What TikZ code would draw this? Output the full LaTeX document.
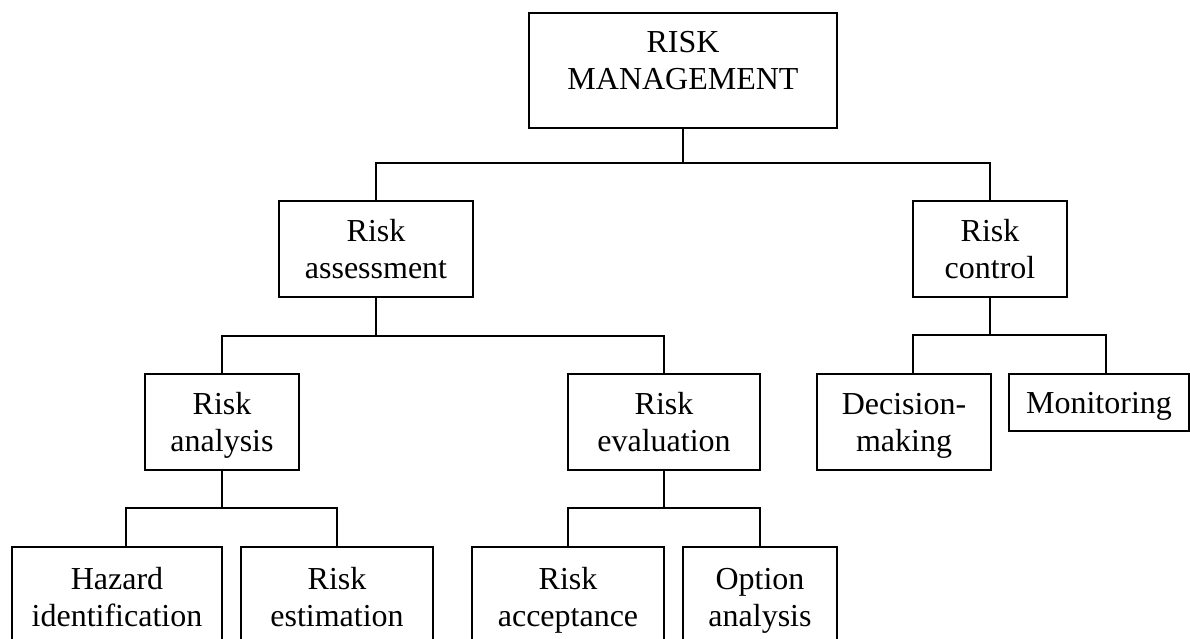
\documentclass[tikz,border=0pt]{standalone}
\usepackage{fontspec}
\setmainfont{Liberation Serif}
\newcommand{\rowstrut}{\rule[-8pt]{0pt}{37pt}}
\begin{document}
\begin{tikzpicture}[x=1pt, y=-1pt, line width=1.5pt,
  boxtext/.style={align=center, inner sep=0pt, font=\fontsize{32}{37}\selectfont},
  box/.style={boxtext, draw, minimum height=96pt}]
\useasboundingbox (0,0) rectangle (1190,639);
\clip (0,0) rectangle (1190,639);

% Nivel superior
\node[box, minimum width=308pt, minimum height=115pt] (mgmt) at (683,70.5) {};
\node[boxtext] (mgmttext) at ([yshift=9.5pt]mgmt.center) {RISK\rowstrut\\MANAGEMENT\rowstrut};

% Segundo nivel
\node[box, minimum width=194pt] (assess) at (376,249) {Risk\rowstrut\\assessment\rowstrut};
\node[box, minimum width=154pt] (control) at (990,249) {Risk\rowstrut\\control\rowstrut};

% Tercer nivel
\node[box, minimum width=154pt] (analysis) at (222,422) {Risk\rowstrut\\analysis\rowstrut};
\node[box, minimum width=192pt] (evaluation) at (664,422) {Risk\rowstrut\\evaluation\rowstrut};
\node[box, minimum width=174pt] (decision) at (904,422) {Decision-\rowstrut\\making\rowstrut};
\node[box, minimum width=180pt, minimum height=57pt] (monitoring) at (1099,402.5) {Monitoring\rowstrut};

% Cuarto nivel
\node[box, minimum width=210pt, minimum height=100pt] (hazard) at (117,597) {Hazard\rowstrut\\identification\rowstrut};
\node[box, minimum width=192pt, minimum height=100pt] (estimation) at (337,597) {Risk\rowstrut\\estimation\rowstrut};
\node[box, minimum width=192pt, minimum height=100pt] (acceptance) at (568,597) {Risk\rowstrut\\acceptance\rowstrut};
\node[box, minimum width=154pt, minimum height=100pt] (option) at (760,597) {Option\rowstrut\\analysis\rowstrut};

% Conectores
\coordinate (bus1) at (683,163);
\coordinate (bus2) at (376,336);
\coordinate (bus3) at (990,335);
\coordinate (bus4) at (222,508);
\coordinate (bus5) at (664,508);
\draw (mgmt.south) -- (bus1);
\draw (assess.north) |- (bus1) -| (control.north);
\draw (assess.south) -- (bus2);
\draw (analysis.north) |- (bus2) -| (evaluation.north);
\draw (control.south) -- (bus3);
\draw ([xshift=9pt]decision.north) |- (bus3) -| ([xshift=7pt]monitoring.north);
\draw (analysis.south) -- (bus4);
\draw ([xshift=9pt]hazard.north) |- (bus4) -| (estimation.north);
\draw (evaluation.south) -- (bus5);
\draw (acceptance.north) |- (bus5) -| (option.north);
\end{tikzpicture}
\end{document}
